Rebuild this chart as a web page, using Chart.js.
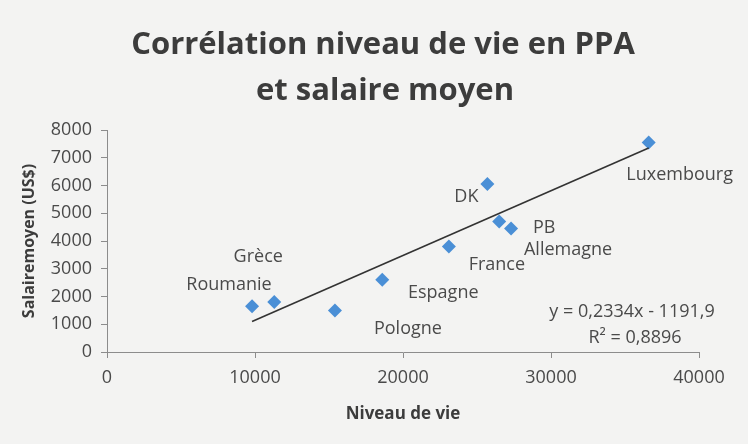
<!DOCTYPE html>
<html>
<head>
<meta charset="utf-8">
<script src="https://cdn.jsdelivr.net/npm/chart.js@4.4.1/dist/chart.umd.min.js"></script>
<style>
  html, body { margin: 0; padding: 0; background: #f3f3f2; }
  #wrap { width: 748px; height: 444px; }
</style>
</head>
<body>
<div id="wrap"><canvas id="c" width="748" height="444"></canvas></div>
<script>
// --- données ---
const pays = ['Roumanie', 'Grèce', 'Pologne', 'Espagne', 'France', 'PB', 'Allemagne', 'DK', 'Luxembourg'];
const niveauVie = [9800, 11300, 15400, 18600, 23100, 26500, 27300, 25700, 36600];
const salaire = [1650, 1800, 1500, 2600, 3800, 4700, 4450, 6050, 7550];

// droite de tendance (extrémités)
const trendX = [9800, 36600];
const trendY = [1100, 7350];
const equation = ['y = 0,2334x - 1191,9', 'R² = 0,8896'];
const titre = ['Corrélation niveau de vie en PPA', 'et salaire moyen'];

const xTicks = [0, 10000, 20000, 30000, 40000];
const yTicks = [0, 1000, 2000, 3000, 4000, 5000, 6000, 7000, 8000];

// décalage des étiquettes (px) par rapport au point
const labelOffsets = [[-23, -21], [-16, -45], [73, 18], [61, 13], [48, 18], [45, 6], [57, 21], [-21, 13], [31, 32]];

const textColor = '#4a4a4a';
const font = '"Open Sans", sans-serif';

const labelPlugin = {
    id: 'labels',
    afterDatasetsDraw(chart) {
        const ctx = chart.ctx;
        const meta = chart.getDatasetMeta(1);
        ctx.save();
        ctx.textAlign = 'center';
        ctx.textBaseline = 'middle';
        // titre (centré sur la page)
        ctx.font = 'bold 31px ' + font;
        ctx.fillStyle = '#3c3c3c';
        ctx.fillText(titre[0], 383, 45);
        ctx.fillText(titre[1], 385, 91);
        // étiquettes des pays
        ctx.font = '18px ' + font;
        ctx.fillStyle = textColor;
        meta.data.forEach((pt, i) => {
            const o = labelOffsets[i];
            ctx.fillText(pays[i], pt.x + o[0], pt.y + o[1]);
        });
        // équation
        const a = chart.chartArea;
        ctx.fillText(equation[0], a.right - 67, a.bottom - 40);
        ctx.fillText(equation[1], a.right - 64, a.bottom - 14);
        ctx.restore();
    }
};

new Chart(document.getElementById('c'), {
    data: {
        datasets: [{
            type: 'line',
            data: trendX.map((x, i) => ({ x: x, y: trendY[i] })),
            borderColor: '#333333',
            borderWidth: 1.6,
            pointRadius: 0,
            fill: false
        }, {
            type: 'scatter',
            data: niveauVie.map((x, i) => ({ x: x, y: salaire[i] })),
            pointStyle: 'rectRot',
            pointRadius: 7,
            pointHoverRadius: 7,
            backgroundColor: '#4a8fd6',
            borderColor: '#4a8fd6',
            borderWidth: 0
        }]
    },
    options: {
        responsive: false,
        animation: false,
        layout: { padding: { left: 0, right: 49, top: 130, bottom: 0 } },
        plugins: {
            legend: { display: false },
            tooltip: { enabled: false },
            title: { display: false }
        },
        scales: {
            x: {
                type: 'linear',
                min: 0, max: 40000,
                afterBuildTicks: s => { s.ticks = xTicks.map(v => ({ value: v })); },
                afterFit: s => { s.height = 92; },
                ticks: { color: textColor, font: { family: font, size: 18 }, padding: 9, callback: v => v },
                grid: { drawOnChartArea: false, color: '#8c8c8c', tickLength: 6 },
                border: { color: '#8c8c8c' },
                title: {
                    display: true, text: 'Niveau de vie', color: '#3c3c3c',
                    font: { family: font, size: 17, weight: 'bold' },
                    padding: { top: 6, bottom: 20 }
                }
            },
            y: {
                type: 'linear',
                min: 0, max: 8000,
                afterBuildTicks: s => { s.ticks = yTicks.map(v => ({ value: v })); },
                afterFit: s => { s.width = 107; },
                ticks: { color: textColor, font: { family: font, size: 18 }, padding: 9, callback: v => v },
                grid: { drawOnChartArea: false, color: '#8c8c8c', tickLength: 6 },
                border: { color: '#8c8c8c' },
                title: {
                    display: true, text: 'Salairemoyen (US$)', color: '#3c3c3c',
                    font: { family: font, size: 16, weight: 'bold' },
                    padding: { top: 20, bottom: 0 }
                }
            }
        }
    },
    plugins: [labelPlugin]
});
</script>
</body>
</html>
